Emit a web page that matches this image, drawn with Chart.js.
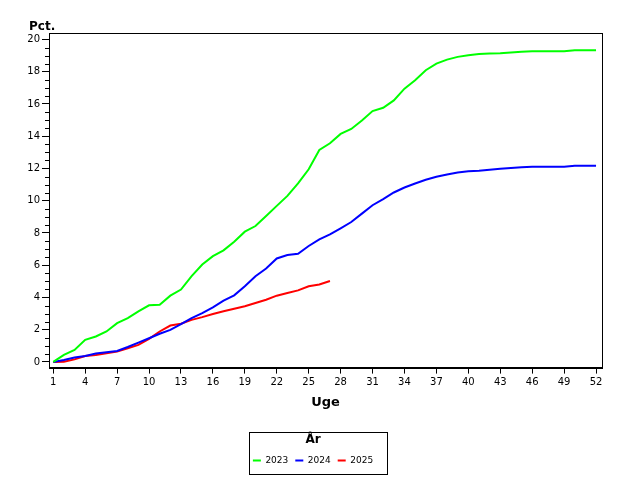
<!DOCTYPE html>
<html>
<head>
<meta charset="utf-8">
<script src="https://cdn.jsdelivr.net/npm/chart.js@4"></script>
<style>
  html, body { margin: 0; padding: 0; background: #fff; }
  #wrap { width: 640px; height: 480px; }
</style>
</head>
<body>
<div id="wrap"><canvas id="chart" width="640" height="480"></canvas></div>
<script>
const weeks = [1, 2, 3, 4, 5, 6, 7, 8, 9, 10, 11, 12, 13, 14, 15, 16, 17, 18, 19, 20, 21, 22, 23, 24, 25, 26,
  27, 28, 29, 30, 31, 32, 33, 34, 35, 36, 37, 38, 39, 40, 41, 42, 43, 44, 45, 46, 47, 48, 49, 50, 51, 52]

const pct2023 = [0, 0.44, 0.75, 1.37, 1.58, 1.89, 2.41, 2.72, 3.14, 3.51, 3.55, 4.11, 4.49, 5.32, 6.04, 6.56,
  6.92, 7.46, 8.08, 8.43, 9.05, 9.68, 10.3, 11.07, 11.95, 13.15, 13.56, 14.14, 14.45, 14.97, 15.56, 15.76,
  16.22, 16.95, 17.47, 18.09, 18.5, 18.75, 18.92, 19.02, 19.1, 19.13, 19.15, 19.19, 19.23, 19.27, 19.27,
  19.27, 19.27, 19.33, 19.33, 19.33]

const pct2024 = [0, 0.12, 0.27, 0.37, 0.52, 0.6, 0.68, 0.93, 1.2, 1.47, 1.75, 1.99, 2.34, 2.72, 3.03, 3.38,
  3.8, 4.13, 4.69, 5.32, 5.79, 6.42, 6.63, 6.71, 7.19, 7.6, 7.91, 8.29, 8.68, 9.2, 9.72, 10.1, 10.51, 10.82,
  11.07, 11.3, 11.48, 11.63, 11.75, 11.82, 11.86, 11.92, 11.98, 12.03, 12.07, 12.11, 12.11, 12.11, 12.11,
  12.17, 12.17, 12.17]

const pct2025 = [0, 0.02, 0.16, 0.37, 0.43, 0.54, 0.64, 0.85, 1.06, 1.43, 1.89, 2.26, 2.37, 2.61, 2.78, 2.97,
  3.14, 3.3, 3.45, 3.66, 3.86, 4.11, 4.28, 4.44, 4.69, 4.8, 5.02]

const years = ['2023', '2024', '2025']
const xTickLabels = [1, 4, 7, 10, 13, 16, 19, 22, 25, 28, 31, 34, 37, 40, 43, 46, 49, 52]
const yTickLabels = [0, 2, 4, 6, 8, 10, 12, 14, 16, 18, 20]

const FONT = '"DejaVu Sans", Verdana, sans-serif'

function points(values) {
  return values.map((v, i) => ({ x: weeks[i], y: v }))
}

// minor ticks on the y axis, box round the plot, "Pct." label and legend frame
const extras = {
  id: 'extras',
  afterDraw(chart) {
    const ctx = chart.ctx
    const area = chart.chartArea
    const y = chart.scales.y
    ctx.save()
    ctx.strokeStyle = '#000'
    ctx.lineWidth = 1
    ctx.beginPath()
    for (let v = 0.5; v < 20; v += 0.5) {
      if (v % 2 === 0) continue
      const py = Math.round(y.getPixelForValue(v)) + 0.5
      ctx.moveTo(area.left - 4, py)
      ctx.lineTo(area.left, py)
    }
    ctx.stroke()
    ctx.strokeRect(Math.round(area.left) + 0.5, Math.round(area.top) + 0.5,
      Math.round(area.right - area.left), Math.round(area.bottom - area.top))

    ctx.fillStyle = '#000'
    ctx.font = 'bold 12px ' + FONT
    ctx.textBaseline = 'middle'
    ctx.textAlign = 'left'
    ctx.fillText('Pct.', 29, 27)

    const legend = chart.legend
    const boxes = legend.legendHitBoxes
    if (boxes && boxes.length) {
      const l = Math.min(...boxes.map(b => b.left)) - 4
      const r = Math.max(...boxes.map(b => b.left + b.width)) + 14
      const b = Math.max(...boxes.map(b => b.top + b.height)) + 9
      const t = legend.top
      ctx.strokeRect(Math.round(l) + 0.5, Math.round(t) + 0.5, Math.round(r - l), Math.round(b - t))
    }
    ctx.restore()
  }
}

new Chart(document.getElementById('chart'), {
  type: 'line',
  data: {
    datasets: [
      { label: years[0], data: points(pct2023), borderColor: '#00ff00', backgroundColor: '#00ff00' },
      { label: years[1], data: points(pct2024), borderColor: '#0000ff', backgroundColor: '#0000ff' },
      { label: years[2], data: points(pct2025), borderColor: '#ff0000', backgroundColor: '#ff0000' },
    ]
  },
  options: {
    responsive: false,
    animation: false,
    devicePixelRatio: 1,
    layout: { padding: { left: 24, right: 38, top: 33, bottom: 5 } },
    elements: {
      line: { borderWidth: 2, tension: 0 },
      point: { radius: 0 }
    },
    plugins: {
      tooltip: { enabled: false },
      legend: {
        position: 'bottom',
        title: {
          display: true,
          text: 'År',
          color: '#000',
          font: { family: FONT, size: 12, weight: 'bold' },
          padding: { top: 2, bottom: 1 }
        },
        labels: {
          color: '#000',
          font: { family: FONT, size: 9 },
          boxWidth: 8,
          boxHeight: 2,
          padding: 7,
          generateLabels: c => Chart.defaults.plugins.legend.labels.generateLabels(c)
            .map(item => ({ ...item, lineWidth: 0 }))
        }
      }
    },
    scales: {
      x: {
        type: 'linear',
        min: 0.6,
        max: 52.56,
        afterBuildTicks: scale => { scale.ticks = xTickLabels.map(v => ({ value: v })) },
        afterFit: scale => { scale.height = 64 },
        ticks: {
          color: '#000',
          font: { family: FONT, size: 10 },
          padding: 3,
          maxRotation: 0,
          autoSkip: false
        },
        grid: { drawOnChartArea: false, tickLength: 6, tickColor: '#000' },
        border: { color: '#000', width: 1 },
        title: {
          display: true,
          text: 'Uge',
          color: '#000',
          font: { family: FONT, size: 13, weight: 'bold' },
          padding: { top: 4, bottom: 21 }
        }
      },
      y: {
        min: -0.35,
        max: 20.4,
        afterBuildTicks: scale => { scale.ticks = yTickLabels.map(v => ({ value: v })) },
        afterFit: scale => { scale.width = 25 },
        ticks: {
          color: '#000',
          font: { family: FONT, size: 10 },
          padding: 2
        },
        grid: { drawOnChartArea: false, tickLength: 7, tickColor: '#000' },
        border: { color: '#000', width: 1 }
      }
    }
  },
  plugins: [extras]
})
</script>
</body>
</html>
